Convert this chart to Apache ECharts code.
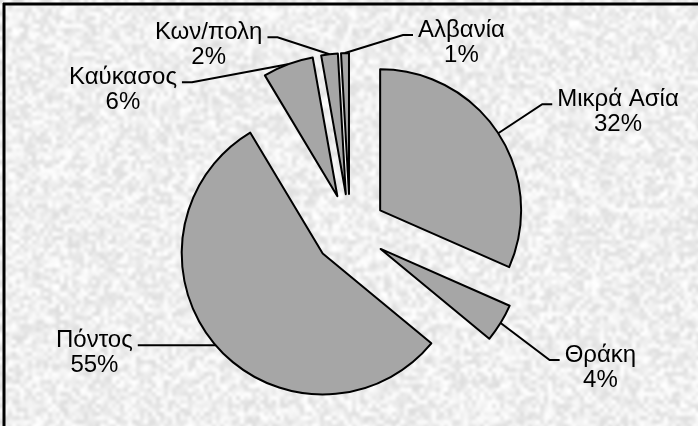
<!DOCTYPE html>
<html>
<head>
<meta charset="utf-8">
<script src="https://cdn.jsdelivr.net/npm/echarts@6/dist/echarts.min.js"></script>
<style>
  html, body { margin: 0; padding: 0; }
  #chart { width: 698px; height: 426px; background: #ececec; }
</style>
</head>
<body>
<div id="chart"></div>
<script>
// 数据 (shares in %; labels round them)
const regions = ['Μικρά Ασία', 'Θράκη', 'Πόντος', 'Καύκασος', 'Κων/πολη', 'Αλβανία'];
const shares = [31.6, 4.4, 55.4, 5.8, 1.9, 0.9];

// label nudges from the default spot, in px (style only)
const labelNudge = [[44, -29], [49, 37], [-68, 0], [-96, 18], [-52, -17], [78, -18]];
const stub = 10; // short horizontal piece of each leader line

// mottled paper texture for the background
function makeTexture(w, h) {
  const cell = 4;
  const small = document.createElement('canvas');
  const sw = Math.ceil(w / cell) + 1, sh = Math.ceil(h / cell) + 1;
  small.width = sw; small.height = sh;
  const sctx = small.getContext('2d');
  const img = sctx.createImageData(sw, sh);
  let seed = 12345;
  const rnd = () => { seed = (seed * 16807) % 2147483647; return seed / 2147483647; };
  for (let i = 0; i < sw * sh; i++) {
    const v = Math.round(222 + rnd() * 33);
    img.data[i * 4] = v; img.data[i * 4 + 1] = v; img.data[i * 4 + 2] = v; img.data[i * 4 + 3] = 255;
  }
  sctx.putImageData(img, 0, 0);
  const big = document.createElement('canvas');
  big.width = w; big.height = h;
  const ctx = big.getContext('2d');
  ctx.imageSmoothingEnabled = true;
  ctx.imageSmoothingQuality = 'high';
  ctx.drawImage(small, 0, 0, sw * cell, sh * cell);
  return big.toDataURL();
}

const el = document.getElementById('chart');
el.style.backgroundImage = 'url(' + makeTexture(698, 426) + ')';

const chart = echarts.init(el);

const option = {
  backgroundColor: 'transparent',
  animation: false,
  graphic: [
    { type: 'line', shape: { x1: 3, y1: 4, x2: 698, y2: 4 }, style: { stroke: '#000', lineWidth: 3 } },
    { type: 'line', shape: { x1: 4, y1: 3, x2: 4, y2: 426 }, style: { stroke: '#000', lineWidth: 3 } }
  ],
  series: [
    {
      type: 'pie',
      center: [350, 230],
      radius: 141,
      startAngle: 90,
      clockwise: true,
      percentPrecision: 0,
      selectedMode: 'multiple',
      selectedOffset: 36,
      avoidLabelOverlap: false,
      emphasis: { disabled: true },
      itemStyle: { color: '#a6a6a6', borderColor: '#000', borderWidth: 2 },
      select: { itemStyle: { color: '#a6a6a6', borderColor: '#000', borderWidth: 2 } },
      label: {
        show: true,
        position: 'outside',
        formatter: '{t|{b}}\n{t|{d}%}',
        padding: [15, 5, 0, 5],
        distanceToLabelLine: 0,
        rich: {
          t: { align: 'center', fontSize: 24, lineHeight: 25, fontFamily: 'Liberation Sans', color: '#000' }
        }
      },
      labelLine: { show: true, length: 0, length2: stub, lineStyle: { color: '#000', width: 2 } },
      labelLayout: function (p) {
        const n = labelNudge[p.dataIndex];
        const pts = p.labelLinePoints;
        const out = { dx: n[0], dy: n[1], hideOverlap: false };
        if (pts && pts.length === 3) {
          const end = [pts[2][0] + n[0], pts[2][1] + n[1]];
          const side = end[0] > pts[0][0] ? 1 : -1;
          out.align = side > 0 ? 'left' : 'right';
          out.labelLinePoints = [pts[0], [end[0] - side * stub, end[1]], end];
        }
        return out;
      },
      data: regions.map((name, i) => ({
        name: name,
        value: shares[i],
        selected: true
      }))
    }
  ]
};

chart.setOption(option);
</script>
</body>
</html>
